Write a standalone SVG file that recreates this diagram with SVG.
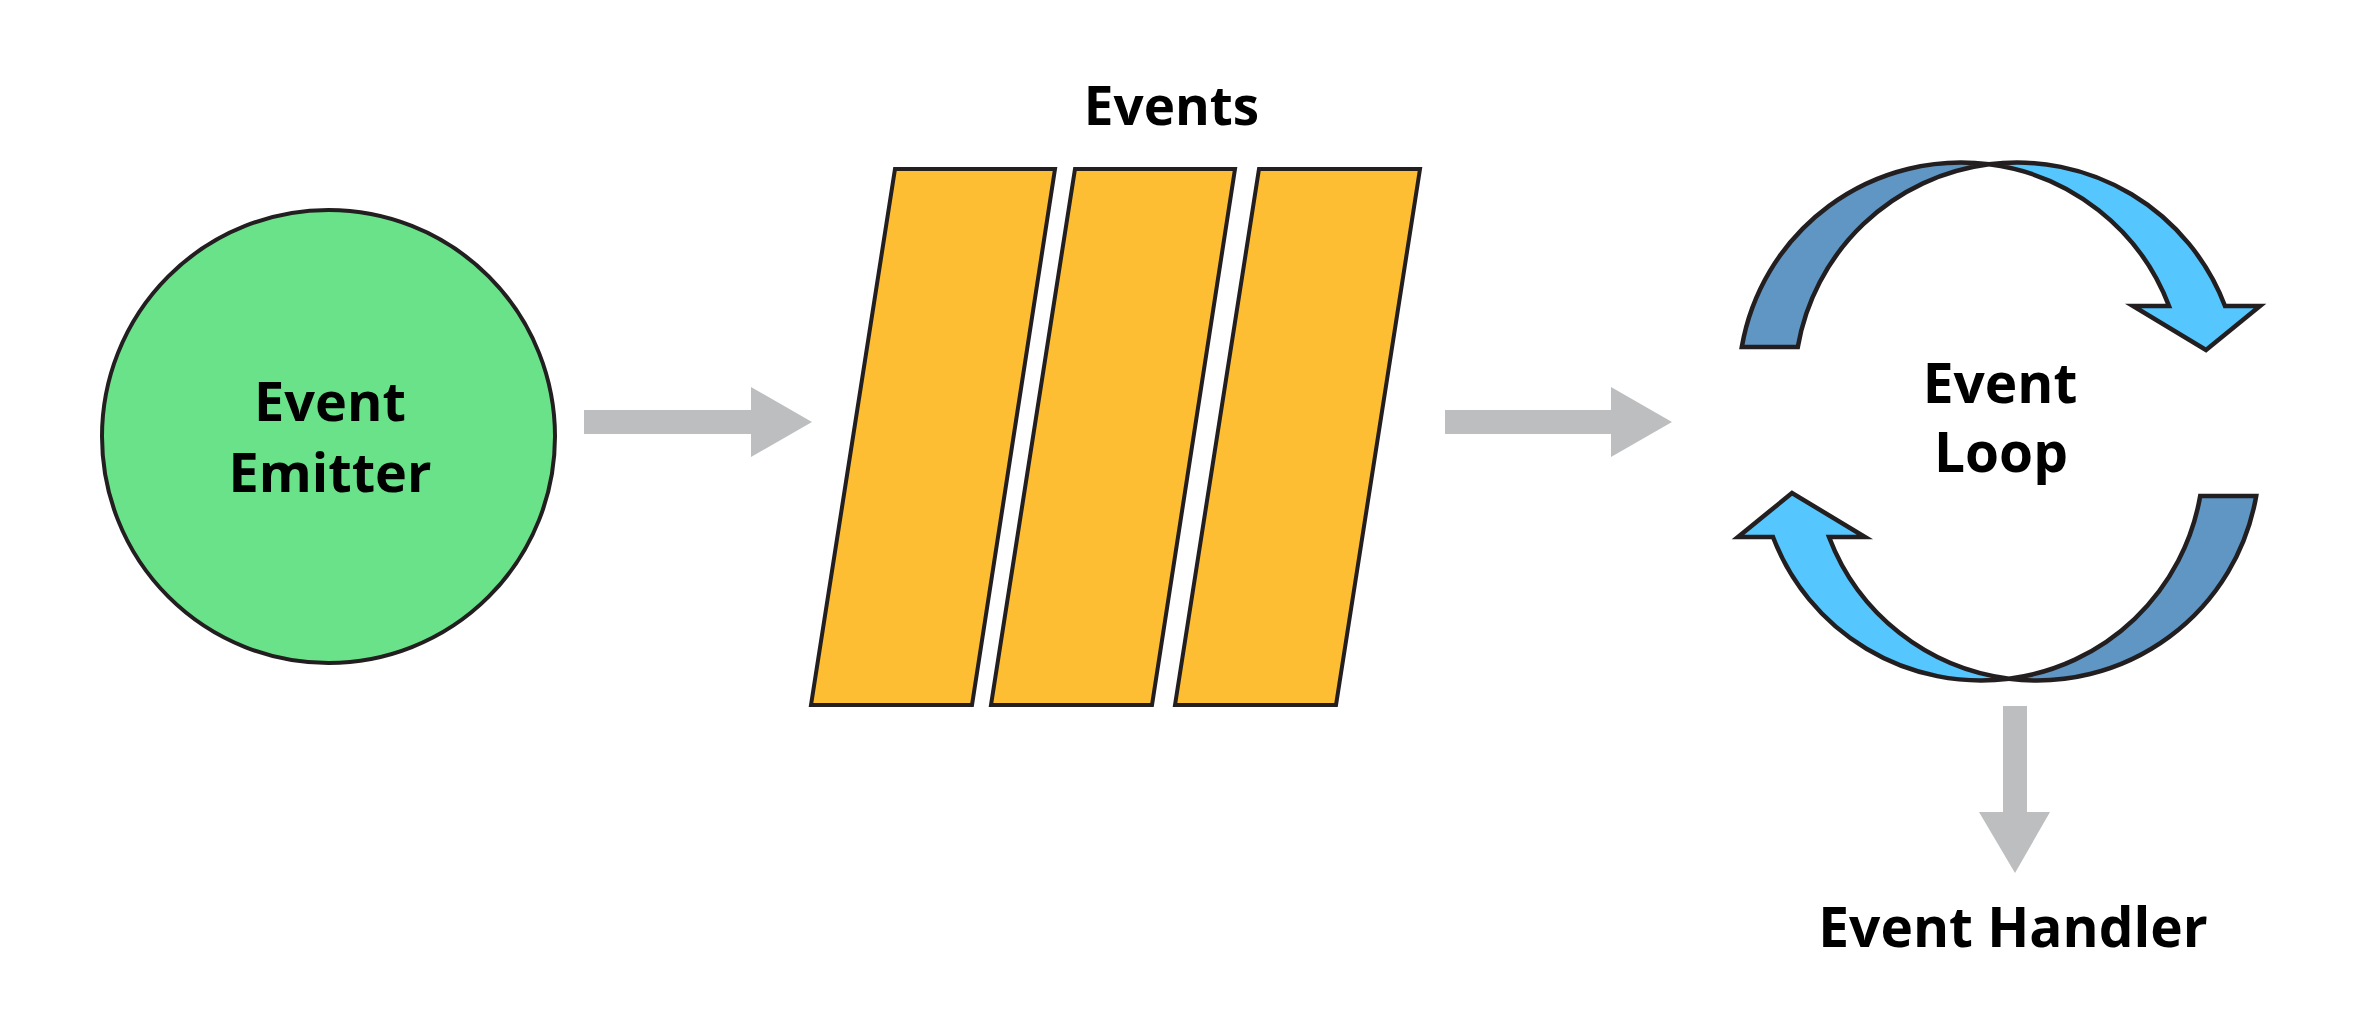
<svg xmlns="http://www.w3.org/2000/svg" width="2371" height="1011" viewBox="0 0 2371 1011">
  <style>
    .lbl { font-family: "Open Sans", "Noto Sans", "Liberation Sans", sans-serif; font-weight: 700; fill: #000; text-anchor: middle; }
    .ol { stroke: #231F20; stroke-width: 4.5; stroke-linejoin: miter; }
    .dark { fill: #5F96C4; }
    .light { fill: #56C6FE; }
    .para { fill: #FEBE33; stroke: #231F20; stroke-width: 4; stroke-linejoin: miter; }
    .conn { fill: #BCBEC0; }
  </style>
  <defs>
    <g id="halfLoop">
      <path class="dark ol" d="M 1741.8 347 A 222.5 222.5 0 0 1 1989 164.3 A 222.5 222.5 0 0 0 1797.8 347 Z"/>
      <path class="light ol" d="M 1989 164.3 A 222.5 222.5 0 0 1 2225 306 L 2260 306 L 2206 350 L 2133 306 L 2169 306 A 222.5 222.5 0 0 0 1989 164.3 Z"/>
    </g>
  </defs>
  <rect width="2371" height="1011" fill="#FFFFFF"/>

  <g id="connectors">
    <polygon class="conn" points="584,410 751,410 751,387 812,422 751,457 751,434 584,434"/>
    <polygon class="conn" points="1445,410 1611,410 1611,387 1672,422 1611,457 1611,434 1445,434"/>
    <polygon class="conn" points="2003,706 2027,706 2027,812 2050,812 2015,873 1979,812 2003,812"/>
  </g>

  <g id="event-emitter">
    <circle cx="328.5" cy="436.5" r="226.5" fill="#6AE28A" stroke="#231F20" stroke-width="4"/>
    <text class="lbl" x="330" y="421" font-size="54">Event</text>
    <text class="lbl" x="330" y="492" font-size="54">Emitter</text>
  </g>

  <g id="events">
    <text class="lbl" x="1171.5" y="125" font-size="53">Events</text>
    <polygon class="para" points="895,169 1055,169 972,705 811,705"/>
    <polygon class="para" points="1075,169 1235,169 1152,705 991,705"/>
    <polygon class="para" points="1259,169 1420,169 1336,705 1175,705"/>
  </g>

  <g id="event-loop">
    <use href="#halfLoop"/>
    <use href="#halfLoop" transform="rotate(180 1999 421.5)"/>
    <text class="lbl" x="2000" y="403" font-size="55">Event</text>
    <text class="lbl" x="2001" y="471.5" font-size="55">Loop</text>
  </g>

  <g id="event-handler">
    <text class="lbl" x="2013" y="946.5" font-size="55">Event Handler</text>
  </g>
</svg>
